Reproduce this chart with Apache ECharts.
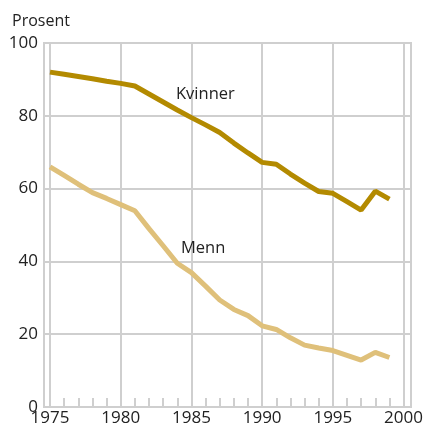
<!DOCTYPE html>
<html>
<head>
<meta charset="utf-8">
<script src="https://cdn.jsdelivr.net/npm/echarts@6/dist/echarts.min.js"></script>
<style>
  html, body { margin: 0; padding: 0; background: #fff; }
  #chart { width: 426px; height: 427px; }
</style>
</head>
<body>
<div id="chart"></div>
<script>
// Data
const years = [1975, 1976, 1977, 1978, 1979, 1980, 1981, 1982, 1983, 1984, 1985, 1986, 1987,
  1988, 1989, 1990, 1991, 1992, 1993, 1994, 1995, 1996, 1997, 1998, 1999]
const kvinner = [92.0, 91.4, 90.8, 90.2, 89.5, 88.9, 88.2, 86.0, 83.8, 81.6, 79.5, 77.5, 75.4,
  72.5, 69.8, 67.2, 66.7, 64.0, 61.5, 59.2, 58.7, 56.4, 54.1, 59.3, 57.1]
const menn = [66.0, 63.6, 61.2, 58.9, 57.3, 55.6, 53.9, 49.0, 44.3, 39.5, 36.9, 33.2, 29.4,
  26.8, 25.1, 22.3, 21.3, 19.0, 17.0, 16.2, 15.5, 14.2, 12.9, 15.0, 13.6]
const yTicks = [0, 20, 40, 60, 80, 100]
const xTicks = [1975, 1980, 1985, 1990, 1995, 2000]

const FONT = '"Open Sans", "DejaVu Sans", sans-serif'
const GRID = '#cfcfcf'
const TEXT = '#222'

const chart = echarts.init(document.getElementById('chart'), null, { renderer: 'canvas' })

const option = {
  animation: false,
  textStyle: { fontFamily: FONT },
  grid: [
    // outer frame + horizontal lines
    { left: 44, right: 15, top: 43, bottom: 20, show: true, borderColor: GRID, borderWidth: 2 },
    // data area
    { left: 50, right: 21, top: 43, bottom: 20 }
  ],
  xAxis: [
    { gridIndex: 0, type: 'value', min: 0, max: 1, show: false },
    {
      gridIndex: 1,
      type: 'value',
      min: xTicks[0],
      max: xTicks[xTicks.length - 1],
      interval: 5,
      axisLine: { show: false },
      axisTick: { show: true, inside: true, length: 9, lineStyle: { color: GRID, width: 2 } },
      minorTick: { show: true, splitNumber: 5, length: 9, lineStyle: { color: GRID, width: 2 } },
      splitLine: { show: true, lineStyle: { color: GRID, width: 2 } },
      axisLabel: { color: TEXT, fontSize: 17, fontFamily: FONT, margin: 3, formatter: v => String(v) }
    }
  ],
  yAxis: [
    {
      gridIndex: 0,
      type: 'value',
      min: yTicks[0],
      max: yTicks[yTicks.length - 1],
      interval: 20,
      name: 'Prosent',
      nameLocation: 'end',
      nameGap: 14,
      nameTextStyle: { color: TEXT, fontSize: 16, fontFamily: FONT, align: 'left', padding: [0, 0, 0, -32] },
      axisLine: { show: false },
      axisTick: { show: false },
      splitLine: { show: true, lineStyle: { color: GRID, width: 2 } },
      axisLabel: { color: TEXT, fontSize: 17, fontFamily: FONT, margin: 6 }
    },
    { gridIndex: 1, type: 'value', min: 0, max: 100, show: false }
  ],
  series: [
    {
      name: 'Kvinner',
      type: 'line',
      xAxisIndex: 1,
      yAxisIndex: 1,
      data: years.map((y, i) => [y, kvinner[i]]),
      symbol: 'none',
      lineStyle: { color: '#b38a00', width: 5 }
    },
    {
      name: 'Menn',
      type: 'line',
      xAxisIndex: 1,
      yAxisIndex: 1,
      data: years.map((y, i) => [y, menn[i]]),
      symbol: 'none',
      lineStyle: { color: '#dfc07a', width: 5 }
    }
  ],
  graphic: [
    { type: 'text', z: 100, left: 176, top: 86, style: { text: 'Kvinner', fill: TEXT, font: '16.5px ' + FONT } },
    { type: 'text', z: 100, left: 181, top: 240, style: { text: 'Menn', fill: TEXT, font: '16.5px ' + FONT } }
  ]
}

chart.setOption(option)
</script>
</body>
</html>
